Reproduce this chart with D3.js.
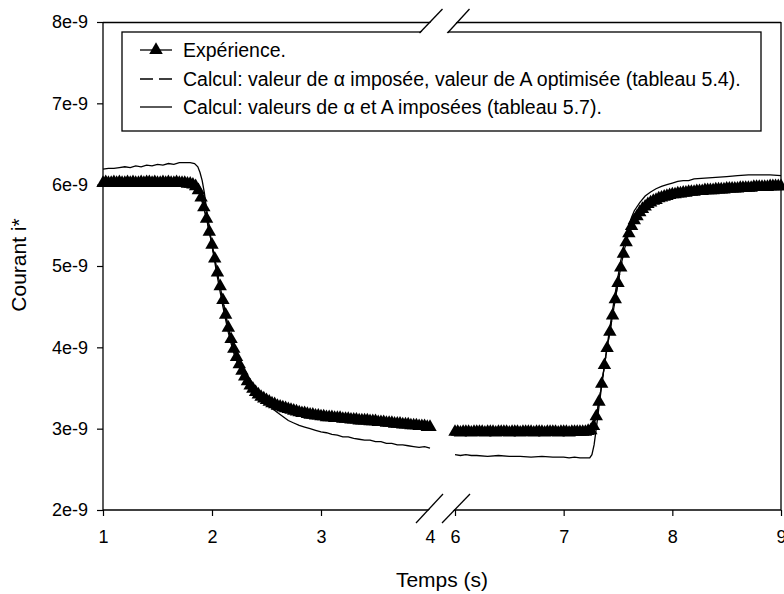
<!DOCTYPE html>
<html><head><meta charset="utf-8">
<script src="https://cdn.jsdelivr.net/npm/d3@7"></script>
<style>body{margin:0;background:#fff}svg text{font-family:"Liberation Sans",Arial,Helvetica,sans-serif;fill:#000}</style>
</head><body><svg id="c" width="784" height="594"></svg>
<script>
// ---- data (values in units of 1e-9 A) ----
const segStarts = [1, 6];          // start time (s) of each recorded segment
const sampleStep = 0.025;          // time between experimental samples (s)
const expSeg1 = [
 6.02,6.03,6.02,6.02,6.03,6.02,6.03,6.02,6.02,6.03,
 6.02,6.03,6.02,6.02,6.03,6.02,6.03,6.03,6.02,6.03,
 6.02,6.02,6.03,6.02,6.03,6.02,6.02,6.03,6.02,6.02,
 6.02,6.01,6.01,
 6.0,5.98,5.93,5.84,5.72,5.58,5.42,5.26,5.09,4.92,
 4.75,4.58,4.4,4.24,4.1,3.98,3.88,3.79,3.71,3.64,
 3.58,3.53,3.49,3.45,3.42,3.39,3.37,3.35,
 3.33,3.31,3.3,3.28,3.27,3.26,3.25,3.24,3.23,3.22,
 3.21,3.2,3.19,3.19,3.18,3.17,3.17,3.16,3.16,3.15,
 3.15,3.14,3.14,3.14,3.13,3.13,3.13,3.12,3.12,3.12,
 3.11,3.11,3.11,3.1,3.1,3.1,3.1,3.09,3.09,3.09,
 3.08,3.08,3.08,3.07,3.07,3.07,3.06,3.06,3.06,3.05,
 3.05,3.05,3.04,3.04,3.04,3.03,3.03,3.03,3.02,3.02
];
const expSeg2 = [
 2.96,2.96,2.95,2.96,2.96,2.96,2.95,2.96,2.96,2.96,
 2.96,2.95,2.96,2.96,2.96,2.95,2.96,2.96,2.96,2.96,
 2.95,2.96,2.96,2.96,2.95,2.96,2.96,2.96,2.96,2.95,
 2.96,2.96,2.96,2.95,2.96,2.96,2.96,2.96,2.95,2.96,
 2.96,2.96,2.95,2.96,2.96,2.96,2.96,2.96,2.96,2.97,
 2.98,
 3.03,3.15,3.33,3.55,3.78,3.99,4.19,4.39,4.59,4.79,
 4.98,5.15,5.29,5.4,5.49,5.56,5.61,5.66,5.7,5.73,
 5.76,5.78,5.8,5.81,5.83,5.84,5.85,5.86,5.87,5.88,
 5.88,5.89,5.89,5.9,5.9,5.91,5.91,5.91,5.92,5.92,
 5.92,5.93,5.93,5.93,5.93,5.94,5.94,5.94,5.94,5.95,
 5.95,5.95,5.95,5.95,5.96,5.96,5.96,5.96,5.96,5.97,
 5.97,5.97,5.97,5.97,5.97,5.98,5.98,5.98,5.98,5.98
];
// Calcul: valeurs de alpha et A imposées (solid) [t, value]
const calcImposed1 = [[1.0,6.19],[1.05,6.2],[1.1,6.2],[1.15,6.21],[1.2,6.22],[1.25,6.21],[1.3,6.23],[1.35,6.22],[1.4,6.24],[1.45,6.23],[1.5,6.25],[1.55,6.24],[1.6,6.26],[1.65,6.25],[1.7,6.27],[1.75,6.27],[1.8,6.27],[1.84,6.26],[1.87,6.22],[1.89,6.15],[1.91,6.05],[1.93,5.9],[1.95,5.7],[1.975,5.48],[2.0,5.25],[2.025,5.05],[2.05,4.86],[2.075,4.68],[2.1,4.5],[2.125,4.34],[2.15,4.18],[2.175,4.05],[2.2,3.93],[2.25,3.75],[2.3,3.62],[2.35,3.52],[2.4,3.43],[2.45,3.36],[2.5,3.3],[2.55,3.25],[2.6,3.2],[2.65,3.15],[2.7,3.1],[2.75,3.07],[2.8,3.04],[2.85,3.02],[2.9,3.0],[2.95,2.98],[3.0,2.96],[3.05,2.95],[3.1,2.93],[3.15,2.92],[3.2,2.9],[3.25,2.9],[3.3,2.88],[3.35,2.87],[3.4,2.86],[3.45,2.86],[3.5,2.84],[3.55,2.84],[3.6,2.82],[3.65,2.82],[3.7,2.8],[3.75,2.8],[3.8,2.79],[3.85,2.78],[3.9,2.77],[3.95,2.78],[4.0,2.76]];
const calcImposed2 = [[6.0,2.68],[6.05,2.67],[6.1,2.68],[6.15,2.67],[6.2,2.67],[6.3,2.66],[6.4,2.67],[6.5,2.66],[6.6,2.66],[6.7,2.65],[6.8,2.66],[6.9,2.65],[7.0,2.65],[7.05,2.64],[7.1,2.65],[7.15,2.64],[7.2,2.64],[7.24,2.64],[7.26,2.68],[7.28,2.8],[7.3,3.0],[7.325,3.27],[7.35,3.53],[7.375,3.78],[7.4,4.02],[7.425,4.24],[7.45,4.46],[7.475,4.67],[7.5,4.87],[7.525,5.06],[7.55,5.23],[7.575,5.38],[7.6,5.5],[7.625,5.6],[7.65,5.68],[7.7,5.78],[7.75,5.86],[7.8,5.91],[7.85,5.95],[7.9,5.98],[7.95,6.0],[8.0,6.02],[8.05,6.04],[8.1,6.05],[8.15,6.05],[8.2,6.07],[8.3,6.08],[8.4,6.09],[8.5,6.1],[8.6,6.11],[8.7,6.12],[8.8,6.12],[8.9,6.12],[9.0,6.11]];
// Calcul: alpha imposée, A optimisée (dashed) [t, value]
const calcOptim1 = [[1,6.02],[1.8,6.02],[1.85,5.98],[1.9,5.84],[1.95,5.58],[2.0,5.26],[2.05,4.92],[2.1,4.58],[2.15,4.24],[2.2,3.98],[2.3,3.64],[2.4,3.45],[2.5,3.35],[2.7,3.22],[3.0,3.15],[3.5,3.08],[4.0,3.02]];
const calcOptim2 = [[6,2.96],[7.25,2.97],[7.3,3.15],[7.35,3.55],[7.4,3.99],[7.45,4.39],[7.5,4.79],[7.55,5.15],[7.6,5.4],[7.7,5.66],[7.8,5.78],[8.0,5.88],[8.5,5.95],[9.0,5.98]];
const xTicksLeft = [1,2,3,4];
const xTicksRight = [6,7,8,9];
const yTicks = [2,3,4,5,6,7,8];
const legendLabels = ["Expérience.",
  "Calcul: valeur de α imposée, valeur de A optimisée (tableau 5.4).",
  "Calcul: valeurs de α et A imposées (tableau 5.7)."];

// ---- scales ----
const svg = d3.select("#c");
const xL = d3.scaleLinear().domain([1,4]).range([103,430]);
const xR = d3.scaleLinear().domain([6,9]).range([455,781]);
const x = t => t <= 5 ? xL(t) : xR(t);
const y = d3.scaleLinear().domain([2,8]).range([510,22]);
const font = "'Liberation Sans',Arial,Helvetica,sans-serif";

const line = d3.line().x(d => x(d[0])).y(d => y(d[1]));
const plot = svg.append("g");

[calcOptim1, calcOptim2].forEach(s => plot.append("path").attr("d", line(s))
  .attr("fill","none").attr("stroke","#000").attr("stroke-width",1.2).attr("stroke-dasharray","8,4"));
[calcImposed1, calcImposed2].forEach(s => plot.append("path").attr("d", line(s))
  .attr("fill","none").attr("stroke","#000").attr("stroke-width",1.3));

const tri = d3.symbol().type(d3.symbolTriangle).size(78);
[expSeg1, expSeg2].forEach((vals, k) => {
  const pts = vals.map((v,i) => [segStarts[k] + i*sampleStep, v]);
  plot.append("path").attr("d", line(pts)).attr("fill","none").attr("stroke","#000").attr("stroke-width",1.2);
  plot.selectAll(null).data(pts).enter().append("path")
    .attr("d", tri).attr("transform", d => `translate(${x(d[0])},${y(d[1])})`).attr("fill","#000");
});

// ---- axes ----
function styleAxis(g){ g.select(".domain").remove(); g.selectAll("line").attr("stroke","#000").attr("stroke-width",1.2);
  g.selectAll("text").attr("font-size",18).attr("font-family",font).attr("fill","#000"); }
svg.append("g").attr("transform",`translate(0,${y(2)})`)
  .call(d3.axisBottom(xL).tickValues(xTicksLeft).tickSize(6).tickSizeOuter(0).tickPadding(14).tickFormat(d3.format("d"))).call(styleAxis);
svg.append("g").attr("transform",`translate(0,${y(2)})`)
  .call(d3.axisBottom(xR).tickValues(xTicksRight).tickSize(6).tickSizeOuter(0).tickPadding(14).tickFormat(d3.format("d"))).call(styleAxis);
svg.append("g").attr("transform",`translate(${xL(1)},0)`)
  .call(d3.axisLeft(y).tickValues(yTicks).tickSize(6).tickSizeOuter(0).tickPadding(9).tickFormat(d => d + "e-9")).call(styleAxis);

// frame
const fr = svg.append("g").attr("stroke","#000").attr("stroke-width",1.3).attr("fill","none");
fr.append("line").attr("x1",xL(1)).attr("x2",xL(1)).attr("y1",y(8)).attr("y2",y(2));
fr.append("line").attr("x1",xL(1)).attr("x2",xR(9)).attr("y1",y(2)).attr("y2",y(2));
fr.append("line").attr("x1",xL(1)).attr("x2",xR(9)).attr("y1",y(8)+0.5).attr("y2",y(8)+0.5);
fr.append("line").attr("x1",xR(9)).attr("x2",xR(9)).attr("y1",y(8)).attr("y2",y(2));

// legend
const lg = svg.append("g");
lg.append("rect").attr("x",122).attr("y",32).attr("width",639).attr("height",99)
  .attr("fill","#fff").attr("stroke","#000").attr("stroke-width",1.3);
const rowY = [50, 79, 107];
legendLabels.forEach((lab,i) => {
  const yy = rowY[i];
  const l = lg.append("line").attr("x1",140).attr("x2",172).attr("y1",yy).attr("y2",yy)
    .attr("stroke","#000").attr("stroke-width",1.3);
  if (i === 1) l.attr("stroke-dasharray","13,6");
  if (i === 0) lg.append("path").attr("d", d3.symbol().type(d3.symbolTriangle).size(80)())
    .attr("transform",`translate(156,${yy})`).attr("fill","#000");
  lg.append("text").attr("x",183).attr("y",yy).attr("dy","0.36em").attr("font-size",19.5).attr("font-family",font).text(lab);
});

// axis breaks
function brk(yTop, yBot, x1b, x1t, x2b, x2t){
  svg.append("polygon").attr("points",`${x1b+1},${yBot} ${x1t+1},${yTop} ${x2t-1},${yTop} ${x2b-1},${yBot}`).attr("fill","#fff");
  [[x1b,x1t],[x2b,x2t]].forEach(p => svg.append("line").attr("x1",p[0]).attr("y1",yBot).attr("x2",p[1]).attr("y2",yTop)
    .attr("stroke","#000").attr("stroke-width",1.3));
}
brk(9, 33, 419.5, 442.5, 447.5, 469.5);
brk(494, 523, 416, 443, 442, 470);

// titles
svg.append("text").attr("x",442).attr("y",580).attr("dy","0.35em").attr("text-anchor","middle")
  .attr("font-size",21).attr("font-family",font).text("Temps (s)");
svg.append("text").attr("transform","translate(19,265) rotate(-90)").attr("dy","0.35em").attr("text-anchor","middle")
  .attr("font-size",21).attr("font-family",font).text("Courant i*");
</script></body></html>
